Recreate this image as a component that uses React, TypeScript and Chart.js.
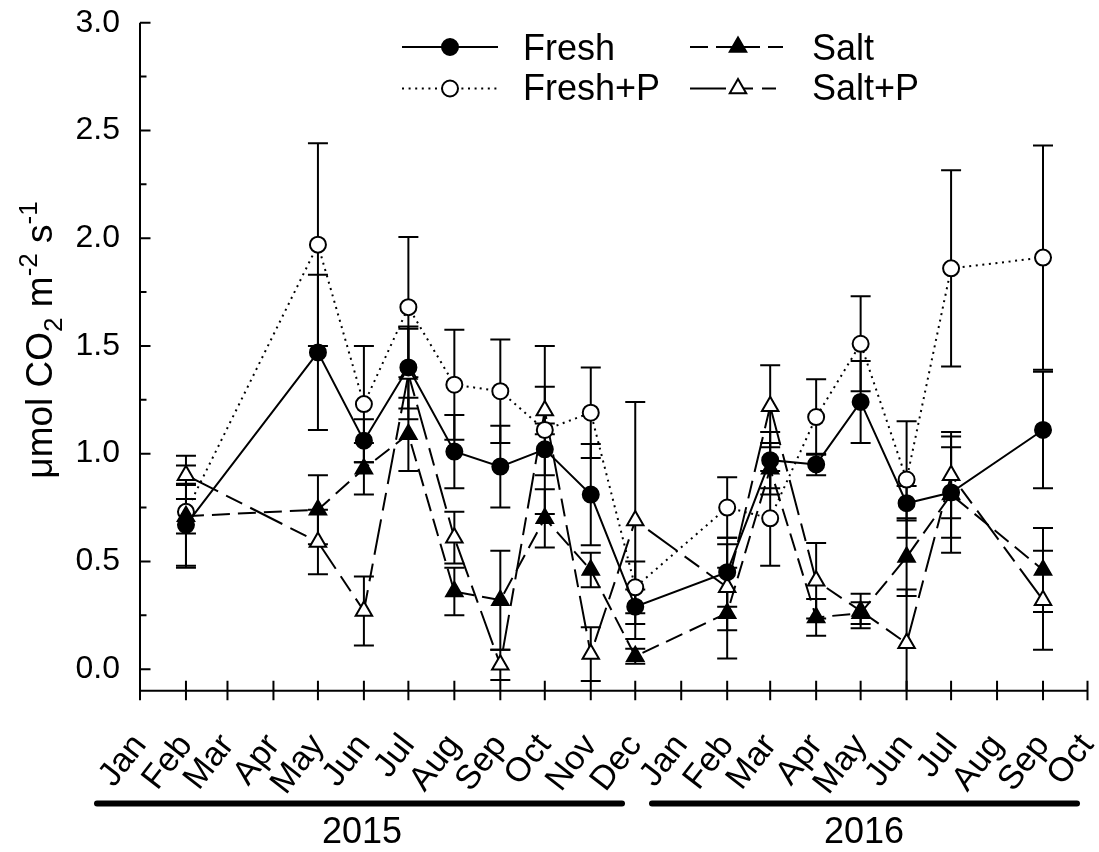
import React, { useEffect, useRef } from 'react';
import { Chart, registerables } from 'chart.js';

Chart.register(...registerables);

const FONT = '"Liberation Sans", Arial, Helvetica, sans-serif';

// ---- Data ----
const sampleDates = [
  '2015-02-01', '2015-05-01', '2015-06-01', '2015-07-01', '2015-08-01', '2015-09-01',
  '2015-10-01', '2015-11-01', '2015-12-01', '2016-02-01', '2016-03-01', '2016-04-01',
  '2016-05-01', '2016-06-01', '2016-07-01', '2016-09-01',
];
const fresh = [0.67, 1.47, 1.06, 1.40, 1.01, 0.94, 1.02, 0.81, 0.29, 0.45, 0.97, 0.95, 1.24, 0.77, 0.82, 1.11];
const freshErr = [0.19, 0.36, 0.10, 0.19, 0.17, 0.19, 0.12, 0.235, 0.08, 0.16, 0.13, 0.05, 0.19, 0.08, 0.21, 0.27];
const freshP = [0.73, 1.97, 1.23, 1.68, 1.32, 1.29, 1.11, 1.19, 0.38, 0.75, 0.70, 1.17, 1.51, 0.88, 1.86, 1.91];
const freshPErr = [0.26, 0.47, 0.27, 0.325, 0.255, 0.24, 0.39, 0.21, 0.12, 0.14, 0.22, 0.175, 0.22, 0.27, 0.455, 0.52];
const salt = [0.71, 0.74, 0.93, 1.09, 0.36, 0.32, 0.70, 0.46, 0.06, 0.26, 0.93, 0.24, 0.26, 0.52, 0.81, 0.46];
const saltErr = [0.08, 0.16, 0.12, 0.17, 0.11, 0.23, 0.135, 0.08, 0.035, 0.21, 0.12, 0.085, 0.05, 0.18, 0.27, 0.195];
const saltP = [0.90, 0.59, 0.27, 1.37, 0.61, 0.02, 1.20, 0.07, 0.69, 0.38, 1.22, 0.41, 0.27, 0.12, 0.90, 0.32];
const saltPErr = [0.045, 0.15, 0.16, 0.21, 0.12, 0.07, 0.11, 0.125, 0.55, 0.20, 0.19, 0.175, 0.08, 0.25, 0.20, 0.23];

const tickDates = [
  '2015-01-01', '2015-02-01', '2015-03-01', '2015-04-01', '2015-05-01', '2015-06-01',
  '2015-07-01', '2015-08-01', '2015-09-01', '2015-10-01', '2015-11-01', '2015-12-01',
  '2016-01-01', '2016-02-01', '2016-03-01', '2016-04-01', '2016-05-01', '2016-06-01',
  '2016-07-01', '2016-08-01', '2016-09-01', '2016-10-01',
];
const tickLabels = [
  'Jan', 'Feb', 'Mar', 'Apr', 'May', 'Jun', 'Jul', 'Aug', 'Sep', 'Oct', 'Nov', 'Dec',
  'Jan', 'Feb', 'Mar', 'Apr', 'May', 'Jun', 'Jul', 'Aug', 'Sep', 'Oct',
];
const yTickValues = [0, 0.5, 1.0, 1.5, 2.0, 2.5, 3.0];
const yMinorValues = [0.25, 0.75, 1.25, 1.75, 2.25, 2.75];
const yearLabels = ['2015', '2016'];
const seriesNames = ['Fresh', 'Salt', 'Fresh+P', 'Salt+P'];

// ---- helpers ----
const toDay = (s: string) =>
  (Date.UTC(+s.slice(0, 4), +s.slice(5, 7) - 1, +s.slice(8, 10)) - Date.UTC(2015, 0, 1)) / 86400000;
const sampleDays = sampleDates.map(toDay);
const tickDays = tickDates.map(toDay);

const W = 1099;
const H = 852;
const AREA_LEFT = 140;
const AREA_TOP = 22.7;
const AREA_BOTTOM = 690.7;
const AREA_RIGHT = 1091;

type Style = { dash: number[]; shape: 'circle' | 'triangle'; filled: boolean };
const styles: Style[] = [
  { dash: [], shape: 'circle', filled: true },
  { dash: [18, 8], shape: 'triangle', filled: true },
  { dash: [2, 4.6], shape: 'circle', filled: false },
  { dash: [36, 9, 18, 9], shape: 'triangle', filled: false },
];
const values = [fresh, salt, freshP, saltP];
const errors = [freshErr, saltErr, freshPErr, saltPErr];

function drawMarker(ctx: CanvasRenderingContext2D, x: number, y: number, st: Style) {
  ctx.save();
  ctx.setLineDash([]);
  ctx.lineWidth = 2;
  ctx.strokeStyle = '#000';
  ctx.fillStyle = st.filled ? '#000' : '#fff';
  ctx.beginPath();
  if (st.shape === 'circle') {
    ctx.arc(x, y, 8, 0, Math.PI * 2);
  } else {
    const r = 9.5;
    let a = 0;
    ctx.moveTo(x + Math.sin(a) * r, y - Math.cos(a) * r);
    a += (2 * Math.PI) / 3;
    ctx.lineTo(x + Math.sin(a) * r, y - Math.cos(a) * r);
    a += (2 * Math.PI) / 3;
    ctx.lineTo(x + Math.sin(a) * r, y - Math.cos(a) * r);
    ctx.closePath();
  }
  ctx.fill();
  ctx.stroke();
  ctx.restore();
}

const errorBarPlugin = {
  id: 'errorBars',
  beforeDatasetsDraw(chart: any) {
    const { ctx, chartArea } = chart;
    const xs = chart.scales.x;
    const ys = chart.scales.y;
    ctx.save();
    ctx.beginPath();
    ctx.rect(chartArea.left, chartArea.top - 5, chartArea.right - chartArea.left, chartArea.bottom - chartArea.top + 5);
    ctx.clip();
    ctx.strokeStyle = '#000';
    ctx.lineWidth = 2;
    ctx.setLineDash([]);
    values.forEach((arr, si) => {
      arr.forEach((v, i) => {
        const e = errors[si][i];
        const x = xs.getPixelForValue(sampleDays[i]);
        const yT = ys.getPixelForValue(v + e);
        const yB = ys.getPixelForValue(v - e);
        ctx.beginPath();
        ctx.moveTo(x, yT);
        ctx.lineTo(x, yB);
        ctx.moveTo(x - 10, yT);
        ctx.lineTo(x + 10, yT);
        ctx.moveTo(x - 10, yB);
        ctx.lineTo(x + 10, yB);
        ctx.stroke();
      });
    });
    ctx.restore();
  },
};

const decorPlugin = {
  id: 'decor',
  afterDraw(chart: any) {
    const { ctx, chartArea } = chart;
    const xs = chart.scales.x;
    const ys = chart.scales.y;
    ctx.save();
    ctx.strokeStyle = '#000';
    ctx.fillStyle = '#000';
    ctx.lineWidth = 2;
    ctx.setLineDash([]);
    // axes
    ctx.beginPath();
    ctx.moveTo(chartArea.left, ys.getPixelForValue(3.0));
    ctx.lineTo(chartArea.left, chartArea.bottom);
    ctx.lineTo(chartArea.right, chartArea.bottom);
    ctx.stroke();
    // y ticks (inward)
    ctx.beginPath();
    yTickValues.forEach((v) => {
      const y = ys.getPixelForValue(v);
      ctx.moveTo(chartArea.left, y);
      ctx.lineTo(chartArea.left + 10.5, y);
    });
    yMinorValues.forEach((v) => {
      const y = ys.getPixelForValue(v);
      ctx.moveTo(chartArea.left, y);
      ctx.lineTo(chartArea.left + 6.5, y);
    });
    // x ticks (crossing)
    tickDays.forEach((d) => {
      const x = xs.getPixelForValue(d);
      ctx.moveTo(x, chartArea.bottom - 10);
      ctx.lineTo(x, chartArea.bottom + 9.5);
    });
    ctx.stroke();

    // legend
    const rows = [60, 100];
    const legendItems = [
      { si: 0, x1: 402, x2: 498, mx: 450, tx: 523, y: 47, ty: rows[0] },
      { si: 2, x1: 402, x2: 498, mx: 450, tx: 523, y: 88.5, ty: rows[1] },
      { si: 1, x1: 690, x2: 783, mx: 738, tx: 812, y: 47, ty: rows[0] },
      { si: 3, x1: 690, x2: 776, mx: 738, tx: 812, y: 88.5, ty: rows[1] },
    ];
    legendItems.forEach((it) => {
      const st = styles[it.si];
      ctx.save();
      ctx.lineWidth = 2;
      ctx.setLineDash(st.dash);
      ctx.beginPath();
      ctx.moveTo(it.x1, it.y);
      ctx.lineTo(it.x2, it.y);
      ctx.stroke();
      ctx.restore();
      drawMarker(ctx, it.mx, it.y, st);
      ctx.font = `36px ${FONT}`;
      ctx.textAlign = 'left';
      ctx.textBaseline = 'alphabetic';
      ctx.fillText(seriesNames[it.si], it.tx, it.ty);
    });

    // y-axis title with sub/superscripts
    const F = 37;
    const S = 26;
    const parts = [
      { t: 'μmol CO', s: F, dy: 0 },
      { t: '2', s: S, dy: 10 },
      { t: ' m', s: F, dy: 0 },
      { t: '-2', s: S, dy: -15 },
      { t: ' s', s: F, dy: 0 },
      { t: '-1', s: S, dy: -15 },
    ];
    let total = 0;
    parts.forEach((p) => {
      ctx.font = `${p.s}px ${FONT}`;
      total += ctx.measureText(p.t).width;
    });
    ctx.save();
    ctx.translate(39, 340);
    ctx.rotate(-Math.PI / 2);
    ctx.textAlign = 'left';
    ctx.textBaseline = 'alphabetic';
    let cx = -total / 2;
    const base = 13;
    parts.forEach((p) => {
      ctx.font = `${p.s}px ${FONT}`;
      ctx.fillText(p.t, cx, base + p.dy);
      cx += ctx.measureText(p.t).width;
    });
    ctx.restore();

    // year bars
    const bars = [
      { x1: 97, x2: 622, cx: 362 },
      { x1: 652, x2: 1077, cx: 864 },
    ];
    ctx.lineWidth = 6;
    ctx.lineCap = 'round';
    bars.forEach((b, i) => {
      ctx.beginPath();
      ctx.moveTo(b.x1, 803.5);
      ctx.lineTo(b.x2, 803.5);
      ctx.stroke();
      ctx.font = `36px ${FONT}`;
      ctx.textAlign = 'center';
      ctx.textBaseline = 'alphabetic';
      ctx.fillText(yearLabels[i], b.cx, 843);
    });
    ctx.restore();
  },
};

export default function App() {
  const ref = useRef<HTMLCanvasElement | null>(null);
  useEffect(() => {
    if (!ref.current) return;
    const datasets = values.map((arr, si) => {
      const st = styles[si];
      return {
        label: seriesNames[si],
        data: arr.map((v, i) => ({ x: sampleDays[i], y: v })),
        borderColor: '#000',
        borderWidth: 2,
        borderDash: st.dash,
        tension: 0,
        fill: false,
        pointStyle: st.shape,
        pointRadius: st.shape === 'circle' ? 8 : 9.5,
        pointBackgroundColor: st.filled ? '#000' : '#fff',
        pointBorderColor: '#000',
        pointBorderWidth: 2,
      };
    });
    const chart = new Chart(ref.current, {
      type: 'line',
      data: { datasets } as any,
      options: {
        responsive: false,
        animation: false,
        events: [],
        layout: { padding: { left: 0, right: W - AREA_RIGHT, top: AREA_TOP, bottom: 0 } },
        plugins: {
          legend: { display: false },
          tooltip: { enabled: false },
          title: { display: false },
        },
        scales: {
          x: {
            type: 'linear',
            min: 0,
            max: toDay('2016-10-01'),
            grid: { display: false, drawTicks: false },
            border: { display: false },
            ticks: {
              autoSkip: false,
              maxRotation: 52,
              minRotation: 52,
              padding: 36,
              color: '#000',
              font: { family: FONT, size: 34 },
              callback: (_v: any, i: number) => tickLabels[i],
            },
            afterBuildTicks: (s: any) => {
              s.ticks = tickDays.map((v) => ({ value: v }));
            },
            afterFit: (s: any) => {
              s.height = H - AREA_BOTTOM;
              s.paddingLeft = 0;
              s.paddingRight = 0;
            },
          },
          y: {
            type: 'linear',
            min: -0.1,
            max: 3.0,
            grid: { display: false, drawTicks: false },
            border: { display: false },
            ticks: {
              padding: 20,
              color: '#000',
              font: { family: FONT, size: 32 },
              callback: (v: any) => Number(v).toFixed(1),
            },
            afterBuildTicks: (s: any) => {
              s.ticks = yTickValues.map((v) => ({ value: v }));
            },
            afterFit: (s: any) => {
              s.width = AREA_LEFT;
              s.paddingTop = 0;
              s.paddingBottom = 0;
            },
          },
        },
      } as any,
      plugins: [errorBarPlugin, decorPlugin],
    });
    return () => chart.destroy();
  }, []);
  return (
    <div style={{ position: 'absolute', left: 0, top: 0, width: W, height: H, background: '#fff' }}>
      <canvas ref={ref} width={W} height={H} style={{ display: 'block' }} />
    </div>
  );
}
